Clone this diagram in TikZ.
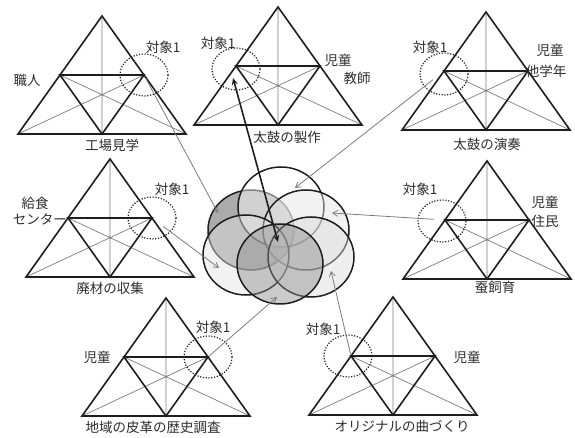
\documentclass[tikz,border=0pt]{standalone}
\usepackage{fontspec}
\setmainfont{Noto Sans CJK JP}
\usepackage{tikz}
\usetikzlibrary{arrows.meta,shapes.geometric,positioning,calc}
\definecolor{inkblack}{RGB}{30,30,30}
\definecolor{linegray}{RGB}{125,125,125}
\definecolor{textgray}{RGB}{45,45,45}

\tikzset{
  thinline/.style={draw=linegray,line width=0.7pt},
  thickline/.style={draw=inkblack,line width=1.6pt},
  target/.style={ellipse,draw=inkblack,line width=1.2pt,dash pattern=on 1.2pt off 1.6pt,
                 minimum width=48pt,minimum height=42pt,inner sep=0pt},
  petal/.style={ellipse,draw=inkblack,line width=1.5pt,fill opacity=0.45,
                minimum width=86pt,minimum height=80pt,inner sep=0pt},
  feed/.style={draw=linegray,line width=0.8pt,-{Straight Barb[length=5pt,width=6pt]}},
  mainlink/.style={draw=inkblack,line width=1.6pt,{Stealth[length=7pt,width=6pt]}-{Stealth[length=7pt,width=6pt]}},
  lbl/.style={inner sep=0pt,text=textgray,font=\fontsize{13.5}{15}\selectfont}
}

% one activity triangle: name, apex x, apex y
\newcommand{\roletri}[3]{%
  \coordinate (#1a) at (#2,#3);
  \coordinate (#1l) at (#2-84,#3+118);
  \coordinate (#1r) at (#2+84,#3+118);
  \coordinate (#1ml) at ($(#1a)!0.5!(#1l)$);
  \coordinate (#1mr) at ($(#1a)!0.5!(#1r)$);
  \coordinate (#1mb) at ($(#1l)!0.5!(#1r)$);
  \draw[thinline] (#1a) -- (#1mb) (#1l) -- (#1mr) (#1r) -- (#1ml);
  \draw[thickline] (#1a) -- (#1l) -- (#1r) -- cycle (#1ml) -- (#1mr) -- (#1mb) -- cycle;
}

\begin{document}
\begin{tikzpicture}[x=1pt,y=-1pt]
    \useasboundingbox (0,0) rectangle (575,438);
    \roletri{t1}{102}{16}
    \roletri{t2}{278}{7}
    \roletri{t3}{486}{12}
    \roletri{t4}{110}{159}
    \roletri{t5}{487}{161}
    \roletri{t6}{166}{298}
    \roletri{t7}{393}{297}

    \node[target] (c1) at (t1mr) {};
    \node[target] (c2) at ($(t2ml)+(0,3)$) {};
    \node[target] (c3) at ($(t3ml)+(0,3)$) {};
    \node[target] (c4) at (t4mr) {};
    \node[target] (c5) at ($(t5ml)+(-3,1)$) {};
    \node[target] (c6) at (t6mr) {};
    \node[target] (c7) at ($(t7ml)+(-3,0)$) {};

    % flower of shared activities
    \node[petal,fill=black!73] (fUL) at (251,230) {};
    \node[petal,fill=white] (fT) at (281,207) {};
    \node[petal,fill=black!11] (fUR) at (306,230) {};
    \node[petal,fill=black!11] (fLL) at (246,255) {};
    \node[petal,fill=black!15] (fLR) at (311,257) {};
    \node[petal,fill=black!45] (fB) at (280,264) {};
    \coordinate (hub) at (278,242);
    \coordinate (in1) at (218,213);
    \coordinate (in2) at (233,78);
    \coordinate (in3) at (295,188);
    \coordinate (in4) at (219,268);
    \coordinate (in5) at (332,213);
    \coordinate (in6) at (277,297);
    \coordinate (in7) at (331,271);

    \draw[feed,shorten <=4pt] (t1mr) -- (in1);
    \draw[feed,shorten <=14pt] (t3ml) -- (in3);
    \draw[feed,shorten <=14pt] (t4mr) -- (in4);
    \draw[feed,shorten <=11pt] (t5ml) -- (in5);
    \draw[feed,shorten <=2pt] (t6mr) -- (in6);
    \draw[feed,shorten <=2pt] (t7ml) -- (in7);
    \draw[mainlink] (hub) -- (in2);

    \node[lbl] (o1) at (163,47) {対象1};
    \node[lbl] (r1) at (27,80) {職人};
    \node[lbl] (k1) at (112,145) {工場見学};

    \node[lbl] (o2) at (218,43) {対象1};
    \node[lbl] (r2a) at (338,60) {児童};
    \node[lbl] (r2b) at (357,78) {教師};
    \node[lbl] (k2) at (287,137) {太鼓の製作};

    \node[lbl] (o3) at (430,47) {対象1};
    \node[lbl] (r3a) at (550,50) {児童};
    \node[lbl] (r3b) at (546,71) {他学年};
    \node[lbl] (k3) at (487,144) {太鼓の演奏};

    \node[lbl] (o4) at (172,189) {対象1};
    \node[lbl] (r4a) at (35,203) {給食};
    \node[lbl,anchor=east] (r4b) at ($(t4ml)+(-1,1)$) {センター};
    \node[lbl] (k4) at (110,288) {廃材の収集};

    \node[lbl] (o5) at (420,189) {対象1};
    \node[lbl] (r5a) at (545,202) {児童};
    \node[lbl] (r5b) at (545,221) {住民};
    \node[lbl] (k5) at (495,287) {蚕飼育};

    \node[lbl] (o6) at (213,327) {対象1};
    \node[lbl] (r6) at (97,357) {児童};
    \node[lbl] (k6) at (153,427) {地域の皮革の歴史調査};

    \node[lbl] (o7) at (323,329) {対象1};
    \node[lbl] (r7) at (467,357) {児童};
    \node[lbl] (k7) at (402,426) {オリジナルの曲づくり};
\end{tikzpicture}
\end{document}
